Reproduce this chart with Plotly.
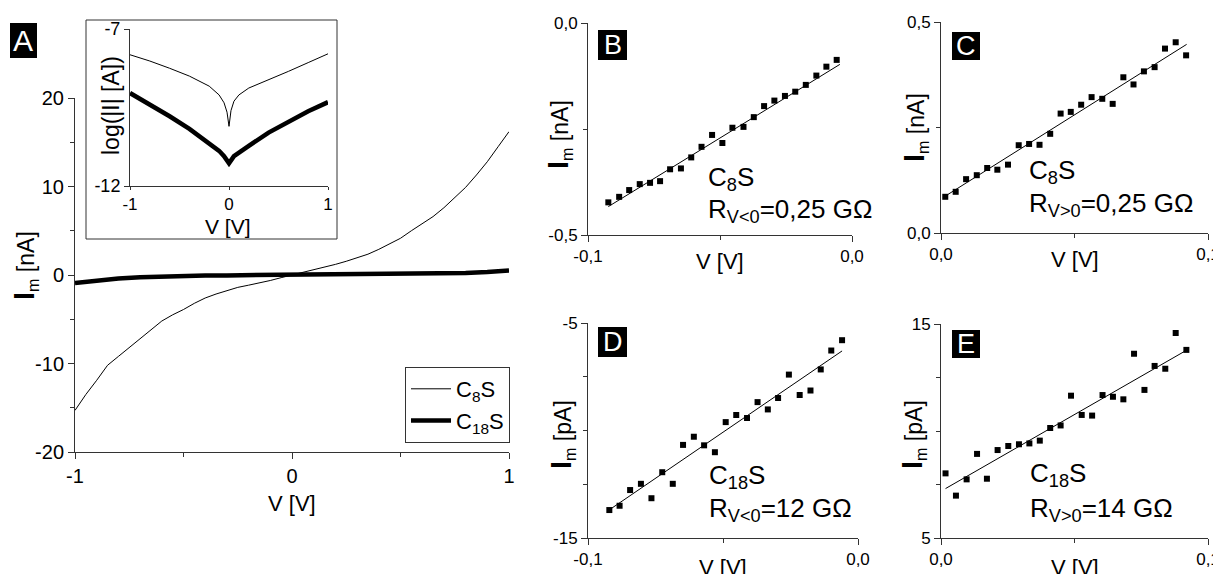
import plotly.graph_objects as go

W, H = 1221, 574
OFF = 8  # page body margin of the html page


def px(x):
    return (x - OFF) / W


def py(y):
    return 1 - (y - OFF) / H


FONT = "Liberation Sans, Arial, sans-serif"
AX = "#333333"

# ---------------- Panel A : I-V curves ----------------
v_c8 = [-1.00, -0.95, -0.90, -0.85, -0.80, -0.75, -0.70, -0.65, -0.60, -0.55,
        -0.50, -0.45, -0.40, -0.35, -0.30, -0.25, -0.20, -0.15, -0.10, -0.05,
        0.00, 0.05, 0.10, 0.15, 0.20, 0.25, 0.30, 0.35, 0.40, 0.45,
        0.50, 0.55, 0.60, 0.65, 0.70, 0.75, 0.80, 0.85, 0.90, 0.95, 1.00]
i_c8 = [-15.3, -13.5, -11.9, -10.2, -9.2, -8.2, -7.2, -6.2, -5.2, -4.5,
        -3.9, -3.2, -2.6, -2.15, -1.75, -1.4, -1.15, -0.9, -0.62, -0.3,
        0.0, 0.25, 0.55, 0.85, 1.2, 1.55, 1.95, 2.35, 2.9, 3.5,
        4.15, 5.0, 5.8, 6.6, 7.6, 8.7, 9.9, 11.3, 12.8, 14.5, 16.2]

v_c18 = [-1.0, -0.9, -0.8, -0.7, -0.6, -0.5, -0.4, -0.3, -0.2, -0.1, 0.0,
         0.1, 0.2, 0.3, 0.4, 0.5, 0.6, 0.7, 0.8, 0.9, 1.0]
i_c18 = [-0.9, -0.6, -0.4, -0.26, -0.17, -0.11, -0.07, -0.045, -0.025, -0.01, 0.0,
         0.01, 0.02, 0.04, 0.06, 0.08, 0.11, 0.16, 0.24, 0.34, 0.5]

# Inset: log(|I| [A])
v_log8 = [-1.0, -0.8, -0.6, -0.4, -0.2, -0.1, -0.05, -0.02, 0.0, 0.02, 0.05, 0.1, 0.2, 0.4, 0.6, 0.8, 1.0]
log_c8 = [-7.82, -8.02, -8.25, -8.5, -8.82, -9.1, -9.35, -9.65, -10.1, -9.6, -9.3, -9.1, -8.88, -8.62, -8.35, -8.07, -7.79]
v_log18 = [-1.0, -0.8, -0.6, -0.4, -0.2, -0.1, -0.05, 0.0, 0.05, 0.1, 0.2, 0.4, 0.6, 0.8, 1.0]
log_c18 = [-9.04, -9.4, -9.78, -10.18, -10.62, -10.88, -11.05, -11.28, -11.05, -10.95, -10.72, -10.3, -9.95, -9.62, -9.33]

# ---------------- Panel B : C8S, V<0 ----------------
v_b = [-0.0923, -0.0882, -0.0844, -0.0804, -0.0765, -0.0727, -0.0689, -0.0648, -0.0609, -0.0570,
       -0.0530, -0.0491, -0.0453, -0.0411, -0.0372, -0.0333, -0.0294, -0.0254, -0.0215, -0.0175,
       -0.0135, -0.0097, -0.0058]
i_b = [-0.423, -0.410, -0.394, -0.380, -0.377, -0.373, -0.345, -0.343, -0.317, -0.292,
       -0.264, -0.283, -0.247, -0.245, -0.222, -0.196, -0.183, -0.172, -0.162, -0.146,
       -0.124, -0.103, -0.087]
fit_b_v = [-0.0923, -0.0046]
fit_b_i = [-0.433, -0.0976]

# ---------------- Panel C : C8S, V>0 ----------------
v_c = [0.0016, 0.0055, 0.0094, 0.0134, 0.0173, 0.0211, 0.0251, 0.0291, 0.0330, 0.0369,
       0.0409, 0.0448, 0.0486, 0.0525, 0.0564, 0.0604, 0.0643, 0.0683, 0.0721, 0.0760,
       0.0800, 0.0839, 0.0879, 0.0918]
i_c = [0.0858, 0.0976, 0.1276, 0.137, 0.154, 0.150, 0.162, 0.208, 0.211, 0.209,
       0.235, 0.283, 0.287, 0.304, 0.322, 0.318, 0.306, 0.369, 0.352, 0.383,
       0.393, 0.437, 0.452, 0.421]
fit_c_v = [0.002, 0.092]
fit_c_i = [0.089, 0.447]

# ---------------- Panel D : C18S, V<0 ----------------
v_d = [-0.0921, -0.0883, -0.0844, -0.0804, -0.0765, -0.0725, -0.0686, -0.0648, -0.0608, -0.0570,
       -0.0530, -0.0490, -0.0451, -0.0411, -0.0372, -0.0334, -0.0296, -0.0256, -0.0216, -0.0176,
       -0.0138, -0.0099, -0.0059]
i_d = [-13.70, -13.50, -12.77, -12.48, -13.15, -11.94, -12.48, -10.67, -10.29, -10.69,
       -11.01, -9.61, -9.28, -9.42, -8.68, -9.02, -8.49, -7.40, -8.35, -8.14,
       -7.16, -6.28, -5.80]
fit_d_v = [-0.0921, -0.0059]
fit_d_i = [-13.69, -6.30]

# ---------------- Panel E : C18S, V>0 ----------------
v_e = [0.0017, 0.0056, 0.0096, 0.0135, 0.0172, 0.0212, 0.0252, 0.0292, 0.0331, 0.0370,
       0.0409, 0.0448, 0.0487, 0.0527, 0.0566, 0.0605, 0.0644, 0.0683, 0.0723, 0.0762,
       0.0800, 0.0840, 0.0879, 0.0919]
i_e = [8.02, 6.98, 7.74, 8.93, 7.77, 9.11, 9.30, 9.38, 9.42, 9.55,
       10.14, 10.26, 11.65, 10.75, 10.72, 11.68, 11.60, 11.48, 13.61, 11.92,
       13.04, 12.91, 14.58, 13.79]
fit_e_v = [0.0017, 0.0919]
fit_e_i = [7.31, 13.77]

fig = go.Figure()

# Panel A traces
fig.add_trace(go.Scatter(x=v_c8, y=i_c8, mode="lines", name="C<sub>8</sub>S",
                         line=dict(color="black", width=1), xaxis="x", yaxis="y"))
fig.add_trace(go.Scatter(x=v_c18, y=i_c18, mode="lines", name="C<sub>18</sub>S",
                         line=dict(color="black", width=4.5), xaxis="x", yaxis="y"))
# Inset traces
fig.add_trace(go.Scatter(x=v_log8, y=log_c8, mode="lines", showlegend=False,
                         line=dict(color="black", width=1), xaxis="x2", yaxis="y2"))
fig.add_trace(go.Scatter(x=v_log18, y=log_c18, mode="lines", showlegend=False,
                         line=dict(color="black", width=4.5), xaxis="x2", yaxis="y2"))

marker = dict(symbol="square", size=6, color="black")
for (vx, iy, fv, fi, n) in [(v_b, i_b, fit_b_v, fit_b_i, 3),
                            (v_c, i_c, fit_c_v, fit_c_i, 4),
                            (v_d, i_d, fit_d_v, fit_d_i, 5),
                            (v_e, i_e, fit_e_v, fit_e_i, 6)]:
    fig.add_trace(go.Scatter(x=vx, y=iy, mode="markers", marker=marker, showlegend=False,
                             xaxis=f"x{n}", yaxis=f"y{n}"))
    fig.add_trace(go.Scatter(x=fv, y=fi, mode="lines", line=dict(color="black", width=1),
                             showlegend=False, xaxis=f"x{n}", yaxis=f"y{n}"))


def axis(domain, rng, tickvals, ticktext, minor_vals, anchor, size, ticklen=6):
    return dict(domain=domain, range=rng, anchor=anchor, showline=True, linecolor=AX,
                linewidth=1, ticks="outside", ticklen=ticklen, tickcolor=AX, tickwidth=1,
                tickmode="array", tickvals=tickvals, ticktext=ticktext,
                minor=dict(tickmode="array", tickvals=minor_vals, ticks="outside",
                           ticklen=4, tickcolor=AX, tickwidth=1),
                showgrid=False, zeroline=False, mirror=False, automargin=False,
                tickfont=dict(family=FONT, size=size, color="black"),
                fixedrange=True)


layout = dict(
    width=W, height=H, margin=dict(l=0, r=0, t=0, b=0, autoexpand=False),
    paper_bgcolor="white", plot_bgcolor="rgba(0,0,0,0)",
    font=dict(family=FONT, color="black"),
    showlegend=True,
    legend=dict(x=px(405), y=py(367), xanchor="left", yanchor="top",
                bordercolor=AX, borderwidth=1, bgcolor="white",
                font=dict(family=FONT, size=22, color="black"),
                tracegroupgap=0, itemwidth=40),
)

layout["xaxis"] = axis([px(75), px(509)], [-1, 1], [-1, 0, 1], ["-1", "0", "1"], [-0.5, 0.5], "y", 20)
layout["yaxis"] = axis([py(452), py(98)], [-20, 20], [-20, -10, 0, 10, 20],
                       ["-20", "-10", "0", "10", "20"], [-15, -5, 5, 15], "x", 20)
layout["xaxis2"] = axis([px(130), px(328)], [-1, 1], [-1, 0, 1], ["-1", "0", "1"], [], "y2", 17, 3)
layout["yaxis2"] = axis([py(186), py(29)], [-12, -7], [-12, -7], ["-12", "-7"], [], "x2", 18, 5)
layout["xaxis3"] = axis([px(588), px(852)], [-0.1, 0.0], [-0.1, 0.0], ["-0,1", "0,0"], [-0.05], "y3", 17)
layout["yaxis3"] = axis([py(235), py(23)], [-0.5, 0.0], [-0.5, 0.0], ["-0,5", "0,0"], [-0.25], "x3", 17)
layout["xaxis4"] = axis([px(941), px(1208)], [0.0, 0.1], [0.0, 0.1], ["0,0", "0,1"], [0.05], "y4", 17)
layout["yaxis4"] = axis([py(233), py(22)], [0.0, 0.5], [0.0, 0.5], ["0,0", "0,5"], [0.25], "x4", 17)
layout["xaxis5"] = axis([px(588), px(858)], [-0.1, 0.0], [-0.1, 0.0], ["-0,1", "0,0"], [-0.05], "y5", 17)
layout["yaxis5"] = axis([py(538), py(323)], [-15, -5], [-15, -5], ["-15", "-5"], [-12.5, -10, -7.5], "x5", 17)
layout["xaxis6"] = axis([px(941), px(1208)], [0.0, 0.1], [0.0, 0.1], ["0,0", "0,1"], [0.05], "y6", 17)
layout["yaxis6"] = axis([py(538), py(324)], [5, 15], [5, 15], ["5", "15"], [7.5, 10, 12.5], "x6", 17)

fig.update_layout(**layout)

# Inset frame
shapes = [dict(type="rect", xref="paper", yref="paper", x0=px(86), x1=px(337), y0=py(239), y1=py(20),
               line=dict(color=AX, width=1), layer="below")]
# Panel letter boxes
letters = [("A", 10, 37, 23, 58, 30), ("B", 598, 627, 30, 60, 27), ("C", 952, 980, 32, 60, 27),
           ("D", 598, 627, 327, 357, 27), ("E", 952, 980, 330, 358, 27)]
annotations = []
for (t, x0, x1, y0, y1, fs) in letters:
    shapes.append(dict(type="rect", xref="paper", yref="paper", x0=px(x0), x1=px(x1), y0=py(y1), y1=py(y0),
                       fillcolor="black", line=dict(width=0)))
    annotations.append(dict(text=t, xref="paper", yref="paper", x=px((x0 + x1) / 2), y=py((y0 + y1) / 2),
                            xanchor="center", yanchor="middle", showarrow=False,
                            font=dict(family=FONT, size=fs, color="white")))

IM = "<b><span style='font-size:29px'>I</span></b><sub>m</sub>"


def ann(text, x, y, size, angle=0, xanchor="center"):
    annotations.append(dict(text=text, xref="paper", yref="paper", x=px(x), y=py(y), xanchor=xanchor,
                            yanchor="middle", showarrow=False, textangle=angle,
                            font=dict(family=FONT, size=size, color="black")))


# axis titles
ann("V [V]", 292, 503, 22)
ann(IM + " [nA]", 25, 266, 23, -90)
ann("V [V]", 228, 227, 21)
ann("log(|I| [A])", 111, 106, 23, -90)
ann("V [V]", 720, 262, 22)
ann(IM + " [nA]", 559, 135, 23, -90)
ann("V [V]", 1075, 260, 22)
ann(IM + " [nA]", 915, 128, 23, -90)
ann("V [V]", 723, 567, 22)
ann(IM + " [pA]", 562, 435, 23, -90)
ann("V [V]", 1075, 567, 22)
ann(IM + " [pA]", 913, 435, 23, -90)

# panel annotations
ann("C<sub>8</sub>S", 706, 178, 26, xanchor="left")
ann("R<sub>V&lt;0</sub>=0,25 GΩ", 706, 210, 26, xanchor="left")
ann("C<sub>8</sub>S", 1027, 171, 26, xanchor="left")
ann("R<sub>V&gt;0</sub>=0,25 GΩ", 1027, 205, 26, xanchor="left")
ann("C<sub>18</sub>S", 707, 476, 26, xanchor="left")
ann("R<sub>V&lt;0</sub>=12 GΩ", 707, 509, 26, xanchor="left")
ann("C<sub>18</sub>S", 1028, 474, 26, xanchor="left")
ann("R<sub>V&gt;0</sub>=14 GΩ", 1028, 509, 26, xanchor="left")

fig.update_layout(shapes=shapes, annotations=annotations)

fig.write_html("out.html")
